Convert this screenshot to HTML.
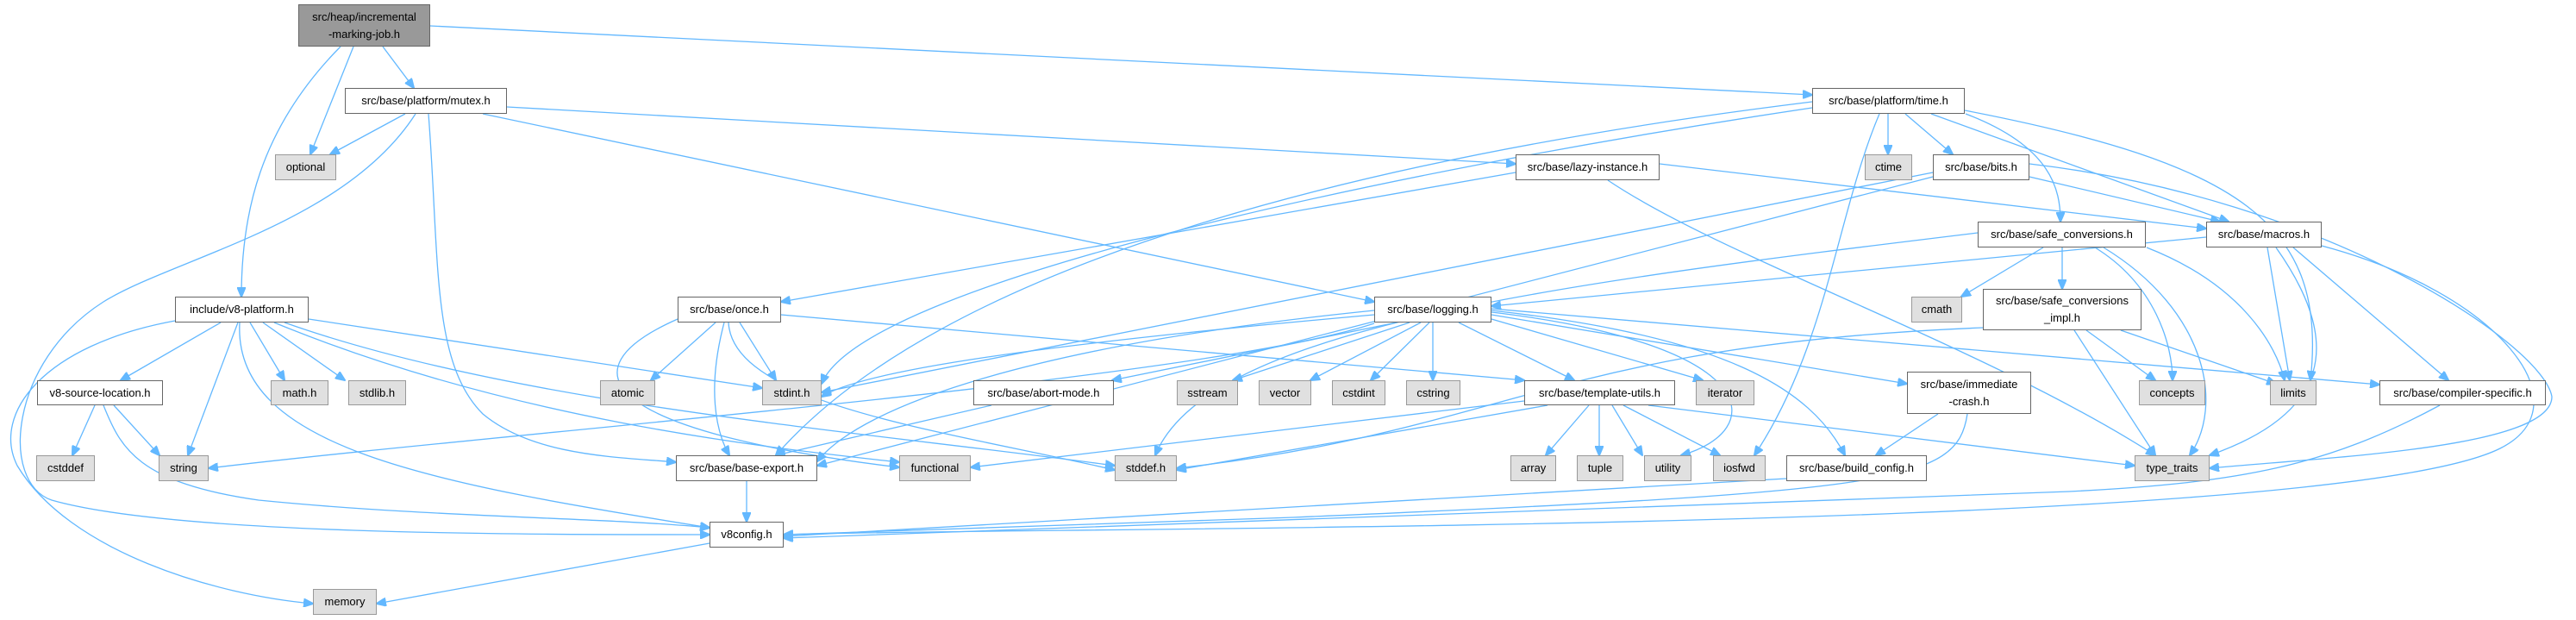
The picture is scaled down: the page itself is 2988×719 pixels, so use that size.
<!DOCTYPE html>
<html><head><meta charset="utf-8"><style>
body{margin:0;background:#fff;width:2988px;height:719px;overflow:hidden;position:relative;font-family:"Liberation Sans",sans-serif}
svg{position:absolute;left:0;top:0}
.n{position:absolute;box-sizing:border-box;border:1.5px solid #666;background:#fff;font-size:13px;color:#000;display:flex;align-items:center;justify-content:center;text-align:center;line-height:20px;white-space:nowrap}
.g{background:#e0e0e0;border-color:#999}
.r{background:#999;border-color:#666}
path{fill:none;stroke:#63b8ff;stroke-width:1.3}
</style></head><body>
<svg width="2988" height="719">
<defs><marker id="a" markerWidth="12" markerHeight="10" refX="11" refY="5" orient="auto" markerUnits="userSpaceOnUse"><path d="M0,0 L12,5 L0,10 z" style="fill:#63b8ff;stroke:#63b8ff"/></marker></defs>
<g marker-end="url(#a)">
<path d="M395,54 C300,150 280,250 280,344"/>
<path d="M410,54 L360,179"/>
<path d="M444,54 L480,102"/>
<path d="M499,30 L2102,110"/>
<path d="M470,132 L383,179"/>
<path d="M482,132 C400,260 200,300 120,350 C10,420 0,560 60,580 C200,620 600,620 823,620"/>
<path d="M497,132 C510,300 500,420 560,480 C620,530 720,530 784,536"/>
<path d="M588,124 L1758,190"/>
<path d="M560,132 L1594,350"/>
<path d="M2102,125 C1600,200 1000,330 953,445"/>
<path d="M2102,118 C1600,180 1100,300 900,528"/>
<path d="M2190,132 L2190,179"/>
<path d="M2210,132 L2265,179"/>
<path d="M2280,132 C2380,170 2390,220 2390,257"/>
<path d="M2240,132 L2585,257"/>
<path d="M2279,128 C2600,190 2700,260 2680,441"/>
<path d="M2180,132 C2130,250 2120,400 2035,528"/>
<path d="M1758,200 L906,350"/>
<path d="M1925,190 L2559,265"/>
<path d="M1865,209 C2000,300 2300,400 2500,528"/>
<path d="M2242,200 L953,455"/>
<path d="M2242,205 L948,540"/>
<path d="M2354,205 L2575,257"/>
<path d="M2354,190 C2700,230 2950,400 2960,460 C2960,520 2700,530 2563,543"/>
<path d="M2294,270 C1800,330 1400,380 1340,528"/>
<path d="M2370,287 L2275,344"/>
<path d="M2392,287 L2392,335"/>
<path d="M2430,287 C2500,330 2520,400 2520,441"/>
<path d="M2490,287 C2600,330 2640,400 2650,441"/>
<path d="M2440,287 C2560,360 2580,470 2540,528"/>
<path d="M2559,275 L1730,355"/>
<path d="M2630,287 L2656,441"/>
<path d="M2640,287 C2720,400 2700,480 2563,528"/>
<path d="M2660,287 L2840,441"/>
<path d="M2693,285 C2900,340 3000,470 2900,520 C2700,620 1200,610 909,620"/>
<path d="M256,374 L140,441"/>
<path d="M290,374 L330,441"/>
<path d="M305,374 L400,441"/>
<path d="M276,374 L218,528"/>
<path d="M278,374 C270,520 500,560 823,612"/>
<path d="M358,370 L884,450"/>
<path d="M203,372 C50,400 -10,480 20,540 C80,640 250,690 363,700"/>
<path d="M318,374 C600,490 900,520 1043,536"/>
<path d="M330,374 C600,470 1000,500 1293,540"/>
<path d="M830,374 L755,441"/>
<path d="M858,374 L900,441"/>
<path d="M840,374 C820,450 830,500 846,528"/>
<path d="M845,374 C850,470 1100,500 1293,545"/>
<path d="M786,370 C650,430 700,500 1043,542"/>
<path d="M906,365 L1768,441"/>
<path d="M1620,374 L1290,441"/>
<path d="M1635,374 L1430,441"/>
<path d="M1648,374 L1520,441"/>
<path d="M1658,374 L1590,441"/>
<path d="M1662,374 L1662,441"/>
<path d="M1692,374 L1826,441"/>
<path d="M1730,370 L1975,441"/>
<path d="M1730,365 L2212,445"/>
<path d="M1730,360 C2000,390 2100,450 2140,528"/>
<path d="M1730,362 C2050,400 2050,500 1950,528"/>
<path d="M1730,358 L2760,446"/>
<path d="M1594,365 C1200,400 1000,430 953,460"/>
<path d="M1594,360 C1200,400 1000,470 948,535"/>
<path d="M1594,375 C1400,440 600,500 242,543"/>
<path d="M2300,380 C1800,400 1750,500 1365,543"/>
<path d="M2420,383 L2500,441"/>
<path d="M2460,383 L2640,445"/>
<path d="M2406,383 L2500,528"/>
<path d="M110,470 L84,528"/>
<path d="M132,470 L185,528"/>
<path d="M120,470 C140,520 160,560 300,580 C500,600 700,600 823,612"/>
<path d="M1150,470 L900,528"/>
<path d="M866,558 L866,605"/>
<path d="M1843,470 L1793,528"/>
<path d="M1855,470 L1855,528"/>
<path d="M1870,470 L1905,528"/>
<path d="M1883,470 L1995,528"/>
<path d="M1768,465 L1126,542"/>
<path d="M1795,470 L1365,545"/>
<path d="M1912,470 L2476,540"/>
<path d="M2248,480 L2176,528"/>
<path d="M2282,480 C2270,560 2200,570 1500,600 L909,620"/>
<path d="M2072,555 L909,622"/>
<path d="M2830,470 C2700,540 2600,560 2400,570 L909,624"/>
<path d="M823,630 L437,700"/>
</g></svg>
<div class="n r" style="left:346px;top:5px;width:153px;height:49px">src/heap/incremental<br>-marking-job.h</div>
<div class="n" style="left:400px;top:102px;width:188px;height:30px">src/base/platform/mutex.h</div>
<div class="n g" style="left:319px;top:179px;width:71px;height:30px">optional</div>
<div class="n" style="left:2102px;top:102px;width:177px;height:30px">src/base/platform/time.h</div>
<div class="n" style="left:1758px;top:179px;width:167px;height:30px">src/base/lazy-instance.h</div>
<div class="n g" style="left:2163px;top:179px;width:55px;height:30px">ctime</div>
<div class="n" style="left:2242px;top:179px;width:112px;height:30px">src/base/bits.h</div>
<div class="n" style="left:2294px;top:257px;width:195px;height:30px">src/base/safe_conversions.h</div>
<div class="n" style="left:2559px;top:257px;width:134px;height:30px">src/base/macros.h</div>
<div class="n" style="left:203px;top:344px;width:155px;height:30px">include/v8-platform.h</div>
<div class="n" style="left:786px;top:344px;width:120px;height:30px">src/base/once.h</div>
<div class="n" style="left:1594px;top:344px;width:136px;height:30px">src/base/logging.h</div>
<div class="n g" style="left:2217px;top:344px;width:59px;height:30px">cmath</div>
<div class="n" style="left:2300px;top:335px;width:184px;height:48px">src/base/safe_conversions<br>_impl.h</div>
<div class="n" style="left:43px;top:441px;width:146px;height:29px">v8-source-location.h</div>
<div class="n g" style="left:314px;top:441px;width:67px;height:29px">math.h</div>
<div class="n g" style="left:404px;top:441px;width:67px;height:29px">stdlib.h</div>
<div class="n g" style="left:696px;top:441px;width:64px;height:29px">atomic</div>
<div class="n g" style="left:884px;top:441px;width:69px;height:29px">stdint.h</div>
<div class="n" style="left:1129px;top:441px;width:163px;height:29px">src/base/abort-mode.h</div>
<div class="n g" style="left:1365px;top:441px;width:71px;height:29px">sstream</div>
<div class="n g" style="left:1460px;top:441px;width:61px;height:29px">vector</div>
<div class="n g" style="left:1545px;top:441px;width:62px;height:29px">cstdint</div>
<div class="n g" style="left:1631px;top:441px;width:63px;height:29px">cstring</div>
<div class="n" style="left:1768px;top:441px;width:175px;height:29px">src/base/template-utils.h</div>
<div class="n g" style="left:1967px;top:441px;width:68px;height:29px">iterator</div>
<div class="n" style="left:2212px;top:431px;width:144px;height:49px">src/base/immediate<br>-crash.h</div>
<div class="n g" style="left:2481px;top:441px;width:77px;height:29px">concepts</div>
<div class="n g" style="left:2633px;top:441px;width:54px;height:29px">limits</div>
<div class="n" style="left:2760px;top:441px;width:193px;height:29px">src/base/compiler-specific.h</div>
<div class="n g" style="left:42px;top:528px;width:68px;height:30px">cstddef</div>
<div class="n g" style="left:184px;top:528px;width:58px;height:30px">string</div>
<div class="n g" style="left:1043px;top:528px;width:83px;height:30px">functional</div>
<div class="n" style="left:784px;top:528px;width:164px;height:30px">src/base/base-export.h</div>
<div class="n g" style="left:1293px;top:528px;width:72px;height:30px">stddef.h</div>
<div class="n g" style="left:1752px;top:528px;width:53px;height:30px">array</div>
<div class="n g" style="left:1829px;top:528px;width:54px;height:30px">tuple</div>
<div class="n g" style="left:1907px;top:528px;width:55px;height:30px">utility</div>
<div class="n g" style="left:1987px;top:528px;width:61px;height:30px">iosfwd</div>
<div class="n" style="left:2072px;top:528px;width:163px;height:30px">src/base/build_config.h</div>
<div class="n g" style="left:2476px;top:528px;width:87px;height:30px">type_traits</div>
<div class="n" style="left:823px;top:605px;width:86px;height:30px">v8config.h</div>
<div class="n g" style="left:363px;top:683px;width:74px;height:30px">memory</div>
</body></html>
